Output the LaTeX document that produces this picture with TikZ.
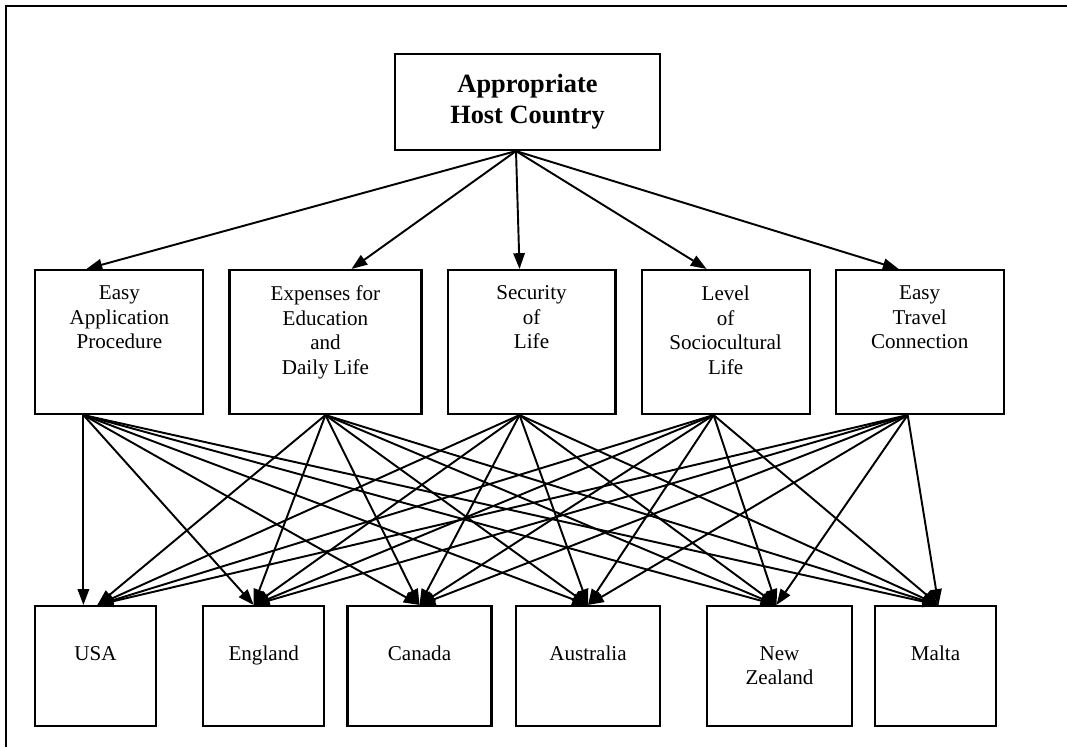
\documentclass[tikz,border=0pt]{standalone}
\usepackage{fontspec}
\setmainfont{Liberation Serif}
\usetikzlibrary{arrows.meta, positioning, calc}
\tikzset{>={Triangle[length = 9pt, width = 6.5pt]}}

\begin{document}
\begin{tikzpicture}[
    x = 0.02cm, y = -0.02cm,
    b0/.style = {draw, line width = 1.2pt, inner sep = 0},
    crit/.style = {b0, minimum width = 3.36cm, minimum height = 2.88cm},
    alt/.style = {b0, minimum height = 2.4cm},
    t0/.style = {inner sep = 0, align = center, font = \fontsize{12}{14}\selectfont},
    e0/.style = {line width = 1.1pt, ->}
]

\useasboundingbox (0,0) rectangle (1067,747);
\draw[line width = 1.7pt] (6,747) -- (6,6) -- (1067,6);

% goal
\node[b0, minimum width = 5.3cm, minimum height = 1.92cm, align = center,
      font = \fontsize{15}{17.6}\selectfont\bfseries] (goal) at (527.5,102) {Appropriate\\Host Country};

% criteria
\node[crit] (c1) at (119.4,342) {};
\node[crit, minimum width = 3.84cm, right = 0.48cm of c1] (c2) {};
\node[crit, right = 0.48cm of c2] (c3) {};
\node[crit, right = 0.48cm of c3] (c4) {};
\node[crit, right = 0.48cm of c4] (c5) {};

\node[t0, below = 0.33cm of c1.north] (c1t) {Easy\\Application\\Procedure};
\node[t0, below = 0.33cm of c2.north] (c2t) {Expenses for\\Education\\and\\Daily Life};
\node[t0, below = 0.33cm of c3.north] (c3t) {Security\\of\\Life};
\node[t0, below = 0.33cm of c4.north] (c4t) {Level\\of\\Sociocultural\\Life};
\node[t0, below = 0.33cm of c5.north] (c5t) {Easy\\Travel\\Connection};

% alternatives
\node[alt, minimum width = 2.42cm] (usa) at (95.4,666) {};
\node[alt, minimum width = 2.42cm] (england) at (263.7,666) {};
\node[alt, minimum width = 2.88cm] (canada) at (419.5,666) {};
\node[alt, minimum width = 2.88cm] (australia) at (588,666) {};
\node[alt, minimum width = 2.9cm] (newzealand) at (779.5,666) {};
\node[alt, minimum width = 2.42cm] (malta) at (935.5,666) {};

\node[t0, below = 0.82cm of usa.north] (usat) {USA};
\node[t0, below = 0.82cm of england.north] (englandt) {England};
\node[t0, below = 0.82cm of canada.north] (canadat) {Canada};
\node[t0, below = 0.82cm of australia.north] (australiat) {Australia};
\node[t0, below = 0.82cm of newzealand.north] (newzealandt) {New\\Zealand};
\node[t0, below = 0.82cm of malta.north] (maltat) {Malta};

% ports
\coordinate (goal-out) at ($(goal.south)+(-11.5,0)$);
\foreach \i/\di/\do in {1/-33/-36, 2/26/0, 3/-12/-12, 4/-19/-12, 5/-21/-12} {
    \coordinate (c\i-in) at ($(c\i.north)+(\di,0)$);
    \coordinate (c\i-out) at ($(c\i.south)+(\do,0)$);
}
\coordinate (usa-in) at ($(usa.north)+(2,0)$);
\coordinate (england-in) at ($(england.north)+(-10,0)$);
\coordinate (canada-in) at (canada.north);
\coordinate (australia-in) at (australia.north);
\coordinate (newzealand-in) at ($(newzealand.north)+(-3,0)$);
\coordinate (malta-in) at ($(malta.north)+(3,0)$);

\foreach \i in {1,...,5} {
    \draw[e0] (goal-out) -- (c\i-in);
    \foreach \a in {england, canada, australia, newzealand, malta}
        \draw[e0] (c\i-out) -- (\a-in);
}
\draw[e0] (c1-out) -- (c1-out |- usa.north);
\foreach \i in {2,...,5}
    \draw[e0] (c\i-out) -- (usa-in);

\end{tikzpicture}
\end{document}
